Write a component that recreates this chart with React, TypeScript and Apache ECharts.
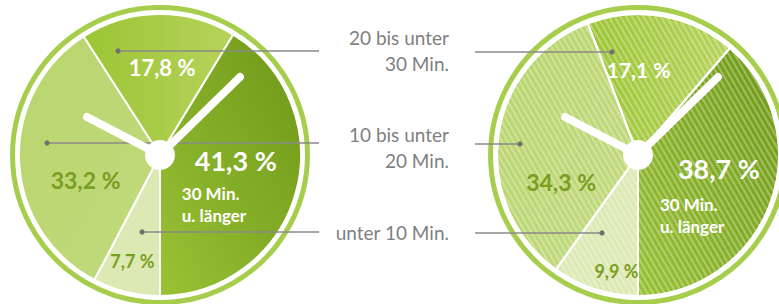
import React, { useEffect, useRef } from "react";
import * as echarts from "echarts";

// ---------- data ----------
const categories = ["unter 10 Min.", "10 bis unter 20 Min.", "20 bis unter 30 Min.", "30 Min. u. länger"];
const legendLabels = ["unter 10 Min.", "10 bis unter\n20 Min.", "20 bis unter\n30 Min."];
const bigSliceSub = ["30 Min.", "u. länger"];
const valuesLeft = [7.7, 33.2, 17.8, 41.3];
const valuesRight = [9.9, 34.3, 17.1, 38.7];

// ---------- layout / style ----------
const W = 779;
const H = 304;
const LEFT_C = [160, 155];
const RIGHT_C = [638, 155];
const PIE_R = 141;
const RING_R = 147.5;
const FONT = "Lato, 'Open Sans', sans-serif";
const OLIVE = "#7a9e1f";
const GREY_TEXT = "#808080";
const GREY_LINE = "#8a8a8a";

const lin = (x: number, y: number, x2: number, y2: number, a: string, b: string) => ({
  type: "linear", x, y, x2, y2,
  colorStops: [{ offset: 0, color: a }, { offset: 1, color: b }],
});
const sliceColors = [
  "#dce9b3",
  lin(0, 0, 1, 1, "#b8d56c", "#c2da7e"),
  lin(0, 0, 1, 0, "#9cc533", "#b6d35c"),
  lin(0, 1, 1, 0, "#99c236", "#6e9717"),
];

const stripe = {
  symbol: "rect",
  symbolSize: 1,
  dashArrayX: [1, 0],
  dashArrayY: [2, 3],
  rotation: Math.PI / 3,
  color: "rgba(255,255,255,0.3)",
};

// label offsets (dx, dy) from the inside-label anchor
const offsetsLeft = [[-10, 35], [-1, 22], [3, -14], [-1.5, 8]];
const offsetsRight = [[1, 46], [-4, 36], [-12, -13.5], [3, 9.5]];
const smallSizesLeft = [18, 23, 22];
const smallSizesRight = [18, 23, 21];
const smallColors = [OLIVE, OLIVE, "#ffffff"];

// leader lines: y per category (0..2) and dot x offset from pie centre
const leaderY = [232, 143, 51];
const legendTextY = [232, 147.5, 50];
const dotDxLeft = [-18, -113, -42];
const dotDxRight = [-36, -118, -26];
const LEFT_LINE_END = 319;
const RIGHT_LINE_START = 475;
const LEGEND_X = 449;

// clock hands (offset of tip from centre)
const hands = [[80, -78], [-73, -38]];

const fmt = (v: number) => v.toFixed(1).replace(".", ",") + " %";

function makeSeries(values: number[], center: number[], striped: boolean, offsets: number[][], sizes: number[], blockW: number, bigLH: number) {
  const rich: any = {
    big: { fontFamily: FONT, fontSize: 27, fontWeight: "bold", color: "#fff", width: blockW, align: "right", lineHeight: bigLH },
    sub: { fontFamily: FONT, fontSize: 17, fontWeight: "bold", color: "#fff", width: blockW, align: "left", lineHeight: 22 },
  };
  sizes.forEach((s, i) => {
    rich["s" + i] = { fontFamily: FONT, fontSize: s, fontWeight: "bold", color: smallColors[i] };
  });
  return {
    type: "pie",
    center,
    radius: [0, PIE_R],
    startAngle: -90,
    clockwise: true,
    silent: true,
    z: 2,
    data: values.map((v, i) => ({
      value: v,
      name: categories[i],
      itemStyle: striped ? { color: sliceColors[i], decal: stripe } : { color: sliceColors[i] },
    })),
    itemStyle: { borderColor: "#ffffff", borderWidth: 2 },
    label: {
      show: true,
      position: "inside",
      formatter: (p: any) =>
        p.dataIndex === 3
          ? `{big|${fmt(p.value)}}\n{sub|${bigSliceSub[0]}}\n{sub|${bigSliceSub[1]}}`
          : `{s${p.dataIndex}|${fmt(p.value)}}`,
      rich,
    },
    labelLine: { show: false },
    labelLayout: (p: any) => ({ dx: offsets[p.dataIndex][0], dy: offsets[p.dataIndex][1] }),
  };
}

function clockGraphics(c: number[]) {
  const els: any[] = [
    {
      type: "circle", z: 90,
      shape: { cx: c[0], cy: c[1], r: RING_R },
      style: { fill: "none", stroke: "#a6ce4c", lineWidth: 5 },
    },
  ];
  hands.forEach((h) => {
    els.push({
      type: "line", z: 100,
      shape: { x1: c[0], y1: c[1], x2: c[0] + h[0], y2: c[1] + h[1] },
      style: { stroke: "#ffffff", lineWidth: 8, lineCap: "round" },
    });
  });
  els.push({
    type: "circle", z: 101,
    shape: { cx: c[0], cy: c[1], r: 15 },
    style: { fill: "#ffffff" },
  });
  return els;
}

function leaderGraphics() {
  const els: any[] = [];
  leaderY.forEach((y, i) => {
    const lx = LEFT_C[0] + dotDxLeft[i];
    const rx = RIGHT_C[0] + dotDxRight[i];
    const ry = y + 1;
    els.push({ type: "line", z: 95, shape: { x1: lx, y1: y, x2: LEFT_LINE_END, y2: y }, style: { stroke: GREY_LINE, lineWidth: 1.5 } });
    els.push({ type: "circle", z: 96, shape: { cx: lx, cy: y, r: 2.6 }, style: { fill: "#707070" } });
    els.push({ type: "line", z: 95, shape: { x1: RIGHT_LINE_START, y1: ry, x2: rx, y2: ry }, style: { stroke: GREY_LINE, lineWidth: 1.5 } });
    els.push({ type: "circle", z: 96, shape: { cx: rx, cy: ry, r: 2.6 }, style: { fill: "#707070" } });
    els.push({
      type: "text", z: 96,
      x: LEGEND_X, y: legendTextY[i],
      style: {
        text: legendLabels[i],
        font: `19px ${FONT}`,
        fill: GREY_TEXT,
        align: "right",
        verticalAlign: "middle",
        lineHeight: 26,
      },
    });
  });
  return els;
}

export default function App() {
  const ref = useRef<HTMLDivElement>(null);
  useEffect(() => {
    if (!ref.current) return;
    const chart = echarts.init(ref.current, undefined, { renderer: "svg" });
    chart.setOption({
      animation: false,
      backgroundColor: "#ffffff",
      series: [
        makeSeries(valuesLeft, LEFT_C, false, offsetsLeft, smallSizesLeft, 95, 44),
        makeSeries(valuesRight, RIGHT_C, true, offsetsRight, smallSizesRight, 100, 50),
      ],
      graphic: [...clockGraphics(LEFT_C), ...clockGraphics(RIGHT_C), ...leaderGraphics()],
    } as any);
    return () => chart.dispose();
  }, []);
  return <div ref={ref} style={{ position: "fixed", left: 0, top: 0, width: W, height: H }} />;
}
